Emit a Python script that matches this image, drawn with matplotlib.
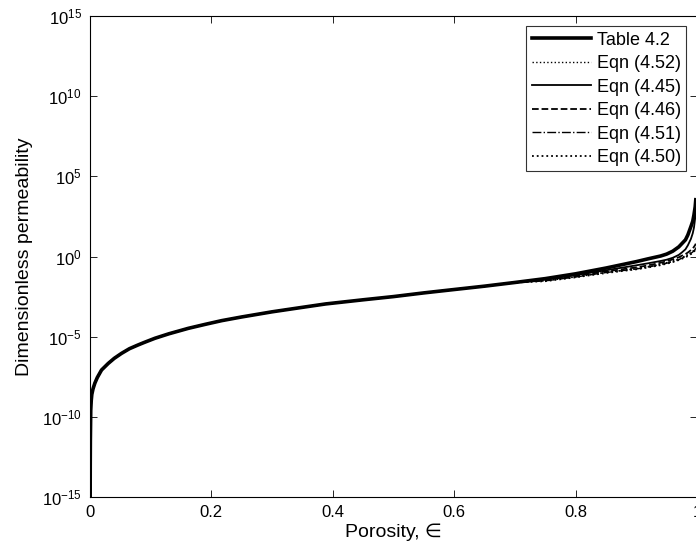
import numpy as np
import matplotlib
matplotlib.use("Agg")
import matplotlib.pyplot as plt

plt.rcParams['font.family'] = ['Liberation Sans', 'DejaVu Sans']
plt.rcParams['mathtext.fontset'] = 'custom'
plt.rcParams['mathtext.rm'] = 'Liberation Sans'
plt.rcParams['mathtext.it'] = 'Liberation Sans:italic'

# Porosity values
eps_low = [0.0002, 0.0004, 0.0006, 0.0012, 0.002, 0.003, 0.005, 0.008,
           0.012, 0.019, 0.03, 0.04, 0.052, 0.065, 0.079, 0.09, 0.107,
           0.13, 0.162, 0.19, 0.217, 0.25, 0.3, 0.35, 0.388, 0.45, 0.5,
           0.55, 0.595, 0.65, 0.7]
eps_high = [0.75, 0.8, 0.85, 0.9, 0.92, 0.94, 0.95, 0.96, 0.97, 0.975,
            0.981, 0.985, 0.99, 0.993, 0.995, 0.997, 0.998]

# log10(dimensionless permeability): all curves overlap for eps <= 0.7
log_common = [-16, -13, -11.5, -9.6, -9.0, -8.6, -8.25, -7.9, -7.55, -7.08,
              -6.67, -6.35, -6.04, -5.75, -5.52, -5.35, -5.1, -4.82, -4.48,
              -4.23, -4.0, -3.77, -3.45, -3.17, -2.96, -2.7, -2.5, -2.27,
              -2.08, -1.85, -1.62]

# high-porosity tails, one per curve
tail_table42 = [-1.38, -1.08, -0.72, -0.32, -0.14, 0.03, 0.15, 0.33, 0.6,
                0.8, 1.04, 1.35, 1.87, 2.2, 2.6, 3.1, 3.54]
tail_eq452 = [-1.5, -1.26, -0.98, -0.75, -0.62, -0.48, -0.38, -0.28, -0.15,
              -0.06, 0.05, 0.13, 0.25, 0.33, 0.4, 0.5, 0.55]
tail_eq445 = [-1.43, -1.16, -0.86, -0.55, -0.42, -0.28, -0.2, -0.08, 0.1,
              0.25, 0.45, 0.7, 1.1, 1.45, 1.8, 2.4, 2.8]
tail_eq446 = [-1.47, -1.22, -0.93, -0.68, -0.55, -0.39, -0.3, -0.18, -0.05,
              0.05, 0.15, 0.25, 0.4, 0.5, 0.6, 0.72, 0.8]
tail_eq451 = [-1.52, -1.28, -1.0, -0.78, -0.65, -0.51, -0.42, -0.32, -0.2,
              -0.11, 0.0, 0.08, 0.2, 0.28, 0.35, 0.45, 0.5]
tail_eq450 = [-1.54, -1.3, -1.03, -0.8, -0.68, -0.54, -0.45, -0.35, -0.22,
              -0.14, -0.05, 0.03, 0.15, 0.22, 0.3, 0.4, 0.45]

labels = ['Table 4.2', 'Eqn (4.52)', 'Eqn (4.45)', 'Eqn (4.46)',
          'Eqn (4.51)', 'Eqn (4.50)']
tails = [tail_table42, tail_eq452, tail_eq445, tail_eq446, tail_eq451, tail_eq450]
styles = [('-', 2.6), (':', 1.0), ('-', 1.3), ('--', 1.3), ('-.', 1.0), (':', 1.3)]

fig = plt.figure(figsize=(6.96, 5.52), dpi=100)
ax = fig.add_axes([90 / 696, 55 / 552, 607 / 696, 481 / 552])

eps = np.array(eps_low + eps_high)
for tail, lab, (ls, lw) in zip(tails, labels, styles):
    logk = np.array(log_common + tail)
    ax.semilogy(eps, 10.0 ** logk, color='black',
                linestyle=ls, linewidth=lw, label=lab)

ax.set_xlim(0, 1)
ax.set_ylim(1e-15, 1e15)
yt = [1e-15, 1e-10, 1e-5, 1e0, 1e5, 1e10, 1e15]
ax.set_yticks(yt)
ax.set_yticklabels([f'$10^{{{int(np.log10(v))}}}$' for v in yt])
ax.minorticks_off()
ax.set_xticks([0, 0.2, 0.4, 0.6, 0.8, 1])
ax.set_xticklabels(['0', '0.2', '0.4', '0.6', '0.8', '1'])
ax.tick_params(direction='in', top=True, right=True, labelsize=12,
               length=5, width=0.6, pad=6)
for s in ax.spines.values():
    s.set_linewidth(0.8)

ax.set_xlabel('Porosity, ∈', fontsize=14, labelpad=2)
ax.set_ylabel('Dimensionless permeability', fontsize=14, labelpad=6)

leg = ax.legend(loc='upper right', bbox_to_anchor=(0.982, 0.979), fontsize=13,
                frameon=True, fancybox=False, edgecolor='black',
                handlelength=3.3, handletextpad=0.3, labelspacing=0.36,
                borderpad=0.3, borderaxespad=0.0)
leg.get_frame().set_linewidth(0.8)

fig.savefig('out.png', dpi=100)
